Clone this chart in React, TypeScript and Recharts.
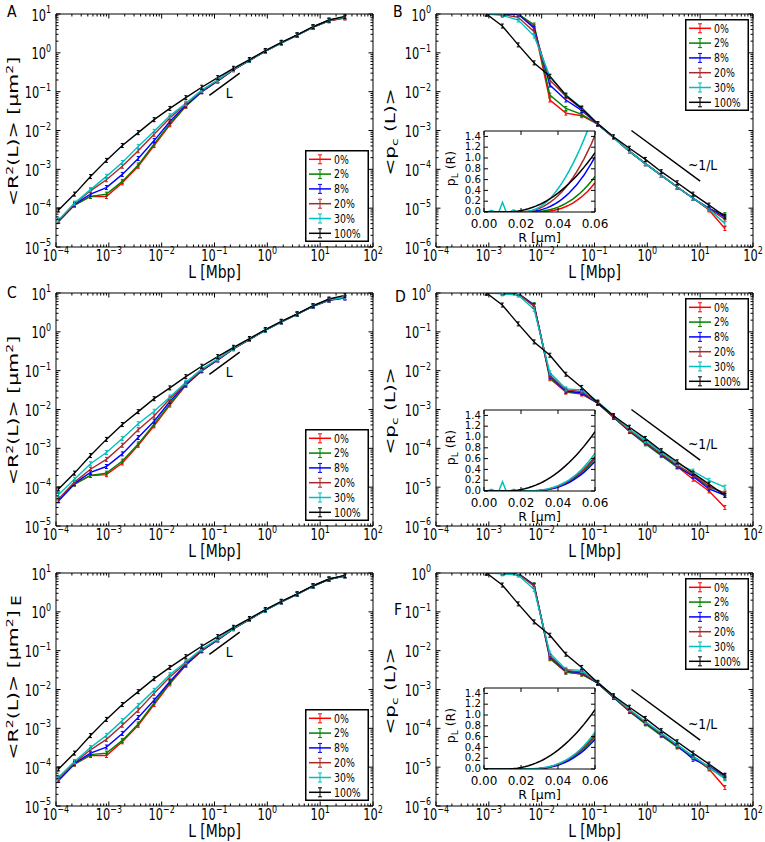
import React from 'react';
import { LineChart, Line, XAxis, YAxis, ReferenceLine, ReferenceDot } from 'recharts';

const FONT = '"DejaVu Sans", "Bitstream Vera Sans", Verdana, sans-serif';

const SERIES_NAMES = ['0%', '2%', '8%', '20%', '30%', '100%'];
const SERIES_COLORS = ['#ff0000', '#008000', '#0000ff', '#a52a2a', '#00bfbf', '#000000'];

// genomic distance L [Mbp]
const L_MBP = [1.12e-4, 2.24e-4, 4.5e-4, 9e-4, 1.8e-3, 3.6e-3, 7.2e-3, 0.0143, 0.0287, 0.0573, 0.115, 0.229, 0.459, 0.918, 1.84, 3.67, 7.34, 14.7, 29.4];

const X_DECADES = [-4, -3, -2, -1, 0, 1, 2];
const R2_DECADES = [-5, -4, -3, -2, -1, 0, 1];
const PC_DECADES = [-6, -5, -4, -3, -2, -1, 0];
const MINOR_MULTS = [2, 3, 4, 5, 6, 7, 8, 9];

// ---- Panel A : <R^2(L)>
const A_0 = [4.6e-5, 1.2e-4, 2.0e-4, 2.0e-4, 4.5e-4, 1.2e-3, 4.1e-3, 0.014, 0.042, 0.1, 0.19, 0.37, 0.64, 1.1, 1.8, 2.85, 4.6, 6.7, 8.0];
const A_2 = [4.6e-5, 1.2e-4, 2.0e-4, 2.3e-4, 4.9e-4, 1.3e-3, 4.5e-3, 0.015, 0.043, 0.1, 0.19, 0.37, 0.64, 1.1, 1.8, 2.85, 4.6, 6.8, 8.2];
const A_8 = [4.6e-5, 1.25e-4, 2.3e-4, 3.4e-4, 7.4e-4, 1.9e-3, 5.5e-3, 0.017, 0.045, 0.1, 0.19, 0.37, 0.64, 1.1, 1.8, 2.85, 4.6, 6.8, 8.3];
const A_20 = [4.8e-5, 1.3e-4, 2.8e-4, 5.4e-4, 1.2e-3, 3.0e-3, 8e-3, 0.021, 0.048, 0.105, 0.195, 0.37, 0.64, 1.1, 1.8, 2.85, 4.6, 6.7, 7.9];
const A_30 = [5e-5, 1.35e-4, 3.0e-4, 6.6e-4, 1.5e-3, 3.9e-3, 9.5e-3, 0.024, 0.05, 0.11, 0.2, 0.38, 0.65, 1.1, 1.8, 2.85, 4.6, 6.9, 8.4];
const A_100 = [9e-5, 2.3e-4, 6.5e-4, 1.7e-3, 4.1e-3, 8.8e-3, 0.019, 0.037, 0.07, 0.13, 0.23, 0.4, 0.67, 1.14, 1.87, 2.9, 4.7, 7.0, 8.7];

// ---- Panel C
const C_0 = [4.5e-5, 1.2e-4, 2.0e-4, 2.1e-4, 4.2e-4, 1.2e-3, 3.8e-3, 0.013, 0.042, 0.1, 0.19, 0.37, 0.64, 1.1, 1.8, 2.85, 4.6, 6.6, 7.6];
const C_2 = [4.5e-5, 1.2e-4, 2.0e-4, 2.3e-4, 4.7e-4, 1.3e-3, 4.2e-3, 0.014, 0.043, 0.1, 0.19, 0.37, 0.64, 1.1, 1.8, 2.85, 4.6, 6.6, 7.6];
const C_8 = [4.5e-5, 1.25e-4, 2.4e-4, 3.4e-4, 7.2e-4, 1.9e-3, 5.0e-3, 0.016, 0.045, 0.1, 0.19, 0.37, 0.64, 1.1, 1.8, 2.85, 4.5, 6.5, 7.4];
const C_20 = [5e-5, 1.35e-4, 2.9e-4, 5.2e-4, 1.2e-3, 3.0e-3, 6.8e-3, 0.019, 0.047, 0.105, 0.195, 0.37, 0.64, 1.1, 1.8, 2.85, 4.6, 6.6, 7.7];
const C_30 = [6.5e-5, 1.6e-4, 4.0e-4, 7.8e-4, 1.8e-3, 4.3e-3, 9e-3, 0.021, 0.05, 0.11, 0.2, 0.38, 0.65, 1.1, 1.8, 2.85, 4.6, 6.7, 7.8];
const C_100 = [9e-5, 2.3e-4, 6.5e-4, 1.7e-3, 4.1e-3, 8.8e-3, 0.019, 0.036, 0.07, 0.13, 0.23, 0.4, 0.67, 1.14, 1.87, 2.9, 4.7, 7.0, 8.7];

// ---- Panel E
const E_0 = [4.6e-5, 1.2e-4, 2.0e-4, 2.0e-4, 4.5e-4, 1.2e-3, 4.1e-3, 0.014, 0.042, 0.1, 0.19, 0.37, 0.64, 1.1, 1.8, 2.85, 4.6, 6.9, 8.4];
const E_2 = [4.6e-5, 1.2e-4, 2.1e-4, 2.3e-4, 4.9e-4, 1.3e-3, 4.5e-3, 0.015, 0.043, 0.1, 0.19, 0.37, 0.64, 1.1, 1.8, 2.85, 4.6, 6.9, 8.5];
const E_8 = [4.6e-5, 1.25e-4, 2.3e-4, 3.3e-4, 7.4e-4, 1.9e-3, 5.3e-3, 0.016, 0.045, 0.1, 0.19, 0.37, 0.64, 1.1, 1.8, 2.85, 4.6, 6.9, 8.4];
const E_20 = [5e-5, 1.3e-4, 2.8e-4, 5.2e-4, 1.2e-3, 2.9e-3, 8e-3, 0.021, 0.048, 0.105, 0.195, 0.37, 0.64, 1.1, 1.8, 2.85, 4.6, 6.9, 8.5];
const E_30 = [5.5e-5, 1.4e-4, 3.2e-4, 6.6e-4, 1.6e-3, 3.9e-3, 9.5e-3, 0.024, 0.052, 0.11, 0.2, 0.38, 0.65, 1.1, 1.8, 2.85, 4.6, 6.9, 8.5];
const E_100 = [9e-5, 2.3e-4, 6.5e-4, 1.7e-3, 4.1e-3, 8.8e-3, 0.019, 0.037, 0.07, 0.13, 0.23, 0.4, 0.67, 1.14, 1.87, 2.9, 4.7, 7.0, 8.7];

// ---- Panel B : <p_c(L)>
const B_0 = [null, null, null, 1.0, 1.0, 1.0, 0.47, 6.1e-3, 2.8e-3, 2.4e-3, 1.45e-3, 6.6e-4, 2.9e-4, 1.4e-4, 7e-5, 3.5e-5, 1.8e-5, 9e-6, 3e-6];
const B_2 = [null, null, null, 1.0, 1.0, 1.0, 0.52, 8.2e-3, 3.7e-3, 2.6e-3, 1.45e-3, 6.6e-4, 2.9e-4, 1.4e-4, 7e-5, 3.5e-5, 1.8e-5, 9.5e-6, 6.8e-6];
const B_8 = [null, null, null, 1.0, 1.0, 0.98, 0.43, 0.0148, 6.1e-3, 3.3e-3, 1.45e-3, 6.6e-4, 2.9e-4, 1.4e-4, 7e-5, 3.5e-5, 1.8e-5, 1e-5, 5.8e-6];
const B_20 = [null, null, null, 1.0, 0.97, 0.82, 0.35, 0.02, 7.5e-3, 3.6e-3, 1.45e-3, 6.6e-4, 2.9e-4, 1.4e-4, 7e-5, 3.5e-5, 1.8e-5, 9.5e-6, 5.2e-6];
const B_30 = [null, null, null, 1.0, 0.92, 0.7, 0.27, 0.0245, 8.2e-3, 3.9e-3, 1.5e-3, 6.6e-4, 2.9e-4, 1.4e-4, 7e-5, 3.5e-5, 1.8e-5, 9.5e-6, 4e-6];
const B_100 = [null, null, null, 1.0, 0.49, 0.16, 0.055, 0.025, 8.1e-3, 3.7e-3, 1.5e-3, 6.9e-4, 3.5e-4, 1.8e-4, 8.7e-5, 4.5e-5, 2.3e-5, 1.2e-5, 6.2e-6];

// ---- Panel D
const D_0 = [null, null, null, 1.0, 1.0, 0.97, 0.47, 6.2e-3, 2.8e-3, 2.5e-3, 1.45e-3, 6.3e-4, 2.8e-4, 1.4e-4, 6.8e-5, 3.4e-5, 1.6e-5, 8e-6, 3e-6];
const D_2 = [null, null, null, 1.0, 1.0, 0.97, 0.5, 6.6e-3, 2.9e-3, 2.6e-3, 1.45e-3, 6.3e-4, 2.7e-4, 1.3e-4, 6.5e-5, 3.3e-5, 2e-5, 1e-5, 7e-6];
const D_8 = [null, null, null, 1.0, 1.0, 0.97, 0.48, 7.2e-3, 3.0e-3, 2.7e-3, 1.45e-3, 6.4e-4, 2.8e-4, 1.4e-4, 7e-5, 3.5e-5, 1.9e-5, 9e-6, 6.2e-6];
const D_20 = [null, null, null, 1.0, 1.0, 0.95, 0.45, 7.6e-3, 3.2e-3, 2.9e-3, 1.5e-3, 6.5e-4, 2.9e-4, 1.45e-4, 7.2e-5, 3.7e-5, 2.1e-5, 1.05e-5, 7e-6];
const D_30 = [null, null, null, 1.0, 0.95, 0.88, 0.38, 8.8e-3, 3.4e-3, 3.2e-3, 1.6e-3, 7e-4, 3.1e-4, 1.6e-4, 8e-5, 4.1e-5, 2.6e-5, 1.5e-5, 1e-5];
const D_100 = [null, null, null, 1.0, 0.49, 0.16, 0.055, 0.025, 8.1e-3, 3.7e-3, 1.5e-3, 6.9e-4, 3.5e-4, 1.8e-4, 8.7e-5, 4.5e-5, 2.3e-5, 1.2e-5, 6.2e-6];

// ---- Panel F
const F_0 = [null, null, null, 1.0, 1.0, 0.97, 0.47, 6.2e-3, 2.8e-3, 2.5e-3, 1.45e-3, 6.3e-4, 2.8e-4, 1.35e-4, 6.8e-5, 3.4e-5, 1.8e-5, 9e-6, 3e-6];
const F_2 = [null, null, null, 1.0, 1.0, 0.97, 0.5, 6.5e-3, 2.8e-3, 2.5e-3, 1.45e-3, 6.2e-4, 2.7e-4, 1.3e-4, 6.5e-5, 3.3e-5, 1.8e-5, 9.5e-6, 5.2e-6];
const F_8 = [null, null, null, 1.0, 1.0, 0.97, 0.48, 7e-3, 3.0e-3, 2.7e-3, 1.45e-3, 6.4e-4, 2.8e-4, 1.4e-4, 7e-5, 3.6e-5, 1.6e-5, 1.05e-5, 6e-6];
const F_20 = [null, null, null, 1.0, 1.0, 0.95, 0.46, 7.4e-3, 3.1e-3, 2.8e-3, 1.5e-3, 6.5e-4, 2.9e-4, 1.45e-4, 7.2e-5, 3.7e-5, 1.9e-5, 1e-5, 5.5e-6];
const F_30 = [null, null, null, 1.0, 0.95, 0.88, 0.38, 8.6e-3, 3.3e-3, 3.1e-3, 1.55e-3, 6.8e-4, 3.1e-4, 1.5e-4, 7.5e-5, 3.8e-5, 1.9e-5, 1e-5, 5e-6];
const F_100 = [null, null, null, 1.0, 0.49, 0.16, 0.055, 0.025, 8.1e-3, 3.7e-3, 1.5e-3, 6.9e-4, 3.5e-4, 1.8e-4, 8.7e-5, 4.5e-5, 2.3e-5, 1.2e-5, 6.2e-6];

// ---- Insets: p_L(R), R in µm
const R_UM = [0, 0.002, 0.004, 0.006, 0.008, 0.01, 0.012, 0.014, 0.016, 0.018, 0.02, 0.022, 0.024, 0.026, 0.028, 0.03, 0.032, 0.034, 0.036, 0.038, 0.04, 0.042, 0.044, 0.046, 0.048, 0.05, 0.052, 0.054, 0.056, 0.058, 0.06];
const INSET_X_TICKS = [0, 0.02, 0.04, 0.06];
const INSET_Y_TICKS = [0, 0.2, 0.4, 0.6, 0.8, 1.0, 1.2, 1.4];

const IN_BLACK = [0, 0, 0, 0, 0, 0, 0, 0.003, 0.008, 0.016, 0.028, 0.042, 0.06, 0.082, 0.108, 0.138, 0.172, 0.21, 0.253, 0.3, 0.35, 0.405, 0.465, 0.528, 0.596, 0.668, 0.745, 0.826, 0.912, 1.002, 1.1];

const INB_0 = [0, 0, 0, 0, 0, 0, 0, 0, 0, 0, 0, 0, 0, 0, 0.001, 0.003, 0.007, 0.013, 0.022, 0.034, 0.05, 0.071, 0.097, 0.128, 0.165, 0.21, 0.26, 0.32, 0.38, 0.46, 0.54];
const INB_2 = [0, 0, 0, 0, 0, 0, 0, 0, 0, 0, 0, 0, 0, 0.002, 0.005, 0.01, 0.019, 0.031, 0.046, 0.066, 0.09, 0.12, 0.154, 0.195, 0.24, 0.293, 0.352, 0.418, 0.49, 0.57, 0.66];
const INB_8 = [0, 0, 0, 0, 0, 0, 0, 0, 0, 0, 0, 0.001, 0.004, 0.01, 0.019, 0.034, 0.053, 0.077, 0.107, 0.143, 0.185, 0.234, 0.29, 0.353, 0.424, 0.5, 0.59, 0.68, 0.79, 0.9, 1.02];
const INB_20 = [0, 0, 0, 0, 0, 0, 0, 0, 0, 0, 0.001, 0.005, 0.013, 0.027, 0.046, 0.07, 0.1, 0.14, 0.186, 0.24, 0.3, 0.37, 0.449, 0.537, 0.633, 0.74, 0.855, 0.98, 1.117, 1.26, 1.42];
const INB_30 = [0, 0, 0.03, 0, 0, 0.18, 0, 0, 0.04, 0, 0, 0.005, 0.015, 0.03, 0.055, 0.09, 0.135, 0.19, 0.26, 0.34, 0.43, 0.53, 0.64, 0.76, 0.89, 1.03, 1.18, 1.34, 1.51, 1.69, 1.88];

const IND_0 = [0, 0, 0, 0, 0, 0, 0, 0, 0, 0, 0, 0, 0, 0.002, 0.005, 0.01, 0.018, 0.029, 0.043, 0.062, 0.085, 0.112, 0.145, 0.183, 0.226, 0.275, 0.33, 0.392, 0.461, 0.537, 0.62];
const IND_2 = [0, 0, 0, 0, 0, 0, 0, 0, 0, 0, 0, 0, 0, 0.002, 0.004, 0.01, 0.017, 0.028, 0.042, 0.06, 0.082, 0.109, 0.14, 0.177, 0.218, 0.266, 0.32, 0.38, 0.446, 0.52, 0.6];
const IND_8 = [0, 0, 0, 0, 0, 0, 0, 0, 0, 0, 0, 0, 0, 0.001, 0.003, 0.007, 0.013, 0.022, 0.035, 0.05, 0.07, 0.095, 0.124, 0.158, 0.197, 0.241, 0.29, 0.345, 0.406, 0.475, 0.55];
const IND_20 = [0, 0, 0, 0, 0, 0, 0, 0, 0, 0, 0, 0, 0, 0.003, 0.005, 0.01, 0.019, 0.03, 0.045, 0.064, 0.088, 0.116, 0.15, 0.189, 0.233, 0.284, 0.341, 0.405, 0.476, 0.554, 0.64];
const IND_30 = [0, 0, 0.03, 0, 0, 0.17, 0, 0, 0.03, 0, 0, 0.002, 0.004, 0.006, 0.01, 0.016, 0.025, 0.037, 0.053, 0.074, 0.099, 0.13, 0.166, 0.208, 0.256, 0.31, 0.372, 0.443, 0.521, 0.606, 0.7];
const INF_30 = [0, 0, 0, 0, 0, 0, 0, 0, 0, 0, 0, 0.002, 0.004, 0.006, 0.01, 0.015, 0.024, 0.036, 0.051, 0.072, 0.096, 0.126, 0.161, 0.202, 0.249, 0.301, 0.361, 0.43, 0.506, 0.589, 0.68];

// annotations (data coordinates)
const SLOPE_L = [{ x: 0.08, y: 0.08 }, { x: 0.3, y: 0.3 }];
const SLOPE_INV = [{ x: 0.5, y: 1e-3 }, { x: 10, y: 5e-5 }];
const LABEL_L = { x: 0.19, y: 0.092, text: 'L' };
const LABEL_INV = { x: 11.1, y: 1.29e-4, text: '~1/L' };

const PANELS = [
  { letter: 'A', kind: 'r2', left: 56, top: 14, series: [A_0, A_2, A_8, A_20, A_30, A_100], lx: 7, ly: 17, rot: false, ylc: 117.5 },
  { letter: 'B', kind: 'pc', left: 436, top: 14, series: [B_0, B_2, B_8, B_20, B_30, B_100], lx: 393, ly: 17, rot: false, ylc: 118,
    inset: { top: 130.5, series: [INB_0, INB_2, INB_8, INB_20, INB_30, IN_BLACK] } },
  { letter: 'C', kind: 'r2', left: 56, top: 293, series: [C_0, C_2, C_8, C_20, C_30, C_100], lx: 7, ly: 298, rot: false, ylc: 117.5 },
  { letter: 'D', kind: 'pc', left: 436, top: 293, series: [D_0, D_2, D_8, D_20, D_30, D_100], lx: 395, ly: 302, rot: false, ylc: 118,
    inset: { top: 409.5, series: [IND_0, IND_2, IND_8, IND_20, IND_30, IN_BLACK] } },
  { letter: 'E', kind: 'r2', left: 56, top: 573, series: [E_0, E_2, E_8, E_20, E_30, E_100], lx: 20.5, ly: 600.5, rot: true, ylc: 112 },
  { letter: 'F', kind: 'pc', left: 436, top: 573, series: [F_0, F_2, F_8, F_20, F_30, F_100], lx: 394, ly: 615, rot: false, ylc: 118,
    inset: { top: 687.5, series: [IND_0, IND_2, IND_8, IND_20, INF_30, IN_BLACK] } },
];

const PW = 317;
const PH = 233;
const IW = 111;
const IH = 81;

function logTicks(decades: number[]) {
  const out: number[] = [];
  decades.forEach((d, i) => {
    out.push(Math.pow(10, d));
    if (i < decades.length - 1) MINOR_MULTS.forEach((m) => out.push(m * Math.pow(10, d)));
  });
  return out;
}

function SText({ x, y, size, sx = 1, anchor = 'start', rotate = false, children }: any) {
  return (
    <g transform={`translate(${x},${y}) scale(${sx},1)${rotate ? ' rotate(-90)' : ''}`}>
      <text x={0} y={0} fontSize={size} fontFamily={FONT} textAnchor={anchor} fill="#000">
        {children}
      </text>
    </g>
  );
}

function LogTick(props: any) {
  const { x, y, payload, side, showLabel } = props;
  const v = payload.value;
  const lg = Math.log10(v);
  const e = Math.round(lg);
  const major = Math.abs(lg - e) < 1e-6;
  const len = major ? 4.5 : 2.5;
  let c = [x, y, x, y];
  if (side === 'bottom') c = [x, y, x, y - len];
  if (side === 'top') c = [x, y, x, y + len];
  if (side === 'left') c = [x, y, x + len, y];
  if (side === 'right') c = [x, y, x - len, y];
  const exp = e < 0 ? '\u2212' + -e : String(e);
  return (
    <g>
      <line x1={c[0]} y1={c[1]} x2={c[2]} y2={c[3]} stroke="#000" strokeWidth={1} />
      {showLabel && major && side === 'bottom' && (
        <SText x={x} y={y + 13.5} size={15} sx={0.76} anchor="middle">
          10<tspan dy={-6.5} fontSize={10.5}>{exp}</tspan>
        </SText>
      )}
      {showLabel && major && side === 'left' && (
        <SText x={x - 5} y={y + 6.5} size={15} sx={0.76} anchor="end">
          10<tspan dy={-7.5} fontSize={10.5}>{exp}</tspan>
        </SText>
      )}
    </g>
  );
}

function LinTick(props: any) {
  const { x, y, payload, side, showLabel, digits } = props;
  const len = 4;
  let c = [x, y, x, y];
  if (side === 'bottom') c = [x, y, x, y - len];
  if (side === 'top') c = [x, y, x, y + len];
  if (side === 'left') c = [x, y, x + len, y];
  if (side === 'right') c = [x, y, x - len, y];
  const txt = Number(payload.value).toFixed(digits);
  return (
    <g>
      <line x1={c[0]} y1={c[1]} x2={c[2]} y2={c[3]} stroke="#000" strokeWidth={1} />
      {showLabel && side === 'bottom' && (
        <SText x={x} y={y + 15.5} size={12} anchor="middle">{txt}</SText>
      )}
      {showLabel && side === 'left' && (
        <SText x={x - 3} y={y + 3.2} size={10.2} anchor="end">{txt}</SText>
      )}
    </g>
  );
}

const makeDot = (color: string) => (p: any) => {
  const k = `d-${p.index}`;
  if (p.cx == null || p.cy == null || isNaN(p.cy) || p.value == null) return <g key={k} />;
  return (
    <g key={k}>
      <line x1={p.cx} x2={p.cx} y1={p.cy - 2} y2={p.cy + 2} stroke={color} strokeWidth={1} />
      <line x1={p.cx - 1.5} x2={p.cx + 1.5} y1={p.cy - 2} y2={p.cy - 2} stroke={color} strokeWidth={1} />
      <line x1={p.cx - 1.5} x2={p.cx + 1.5} y1={p.cy + 2} y2={p.cy + 2} stroke={color} strokeWidth={1} />
    </g>
  );
};

const AXIS_LINE = { stroke: '#000', strokeWidth: 1 };

function MainPanel({ cfg }: any) {
  const isR2 = cfg.kind === 'r2';
  const rows = L_MBP.map((L, i) => {
    const r: any = { L };
    cfg.series.forEach((s: any[], k: number) => { r['s' + k] = s[i]; });
    return r;
  });
  const yDomain = isR2 ? [1e-5, 10] : [1e-6, 1];
  const xTicks = logTicks(X_DECADES);
  const yTicks = logTicks(isR2 ? R2_DECADES : PC_DECADES);
  const common = { tickSize: 0, tickMargin: 0, tickLine: false, axisLine: AXIS_LINE, interval: 0 as any, allowDataOverflow: true };
  const lab = isR2 ? LABEL_L : LABEL_INV;
  return (
    <div style={{ position: 'absolute', left: cfg.left - 56, top: cfg.top - 14 }}>
      <LineChart width={396} height={285} data={rows} margin={{ top: 13, right: 22, bottom: 37, left: 55 }}>
        <XAxis dataKey="L" type="number" scale="log" domain={[1e-4, 100]} ticks={xTicks} height={1} {...common}
          tick={(p: any) => <LogTick {...p} side="bottom" showLabel />} />
        <XAxis xAxisId="top" orientation="top" dataKey="L" type="number" scale="log" domain={[1e-4, 100]} ticks={xTicks} height={1} {...common}
          tick={(p: any) => <LogTick {...p} side="top" />} />
        <YAxis type="number" scale="log" domain={yDomain} ticks={yTicks} width={1} {...common}
          tick={(p: any) => <LogTick {...p} side="left" showLabel />} />
        <YAxis yAxisId="right" orientation="right" type="number" scale="log" domain={yDomain} ticks={yTicks} width={1} {...common}
          tick={(p: any) => <LogTick {...p} side="right" />} />
        <ReferenceLine segment={isR2 ? SLOPE_L : SLOPE_INV} stroke="#000" strokeWidth={1.5} />
        <ReferenceDot x={lab.x} y={lab.y} r={0}
          shape={(p: any) => <SText x={p.cx} y={p.cy + 5} size={14.5} sx={0.85} anchor="middle">{lab.text}</SText>} />
        {cfg.series.map((_: any, k: number) => (
          <Line key={k} dataKey={'s' + k} type="linear" stroke={SERIES_COLORS[k]} strokeWidth={1.4}
            dot={makeDot(SERIES_COLORS[k])} activeDot={false} isAnimationActive={false} connectNulls={false} />
        ))}
      </LineChart>
    </div>
  );
}

function InsetPanel({ left, top, series }: any) {
  const rows = R_UM.map((R, i) => {
    const r: any = { R };
    series.forEach((s: number[], k: number) => { r['s' + k] = s[i]; });
    return r;
  });
  const common = { tickSize: 0, tickMargin: 0, tickLine: false, axisLine: AXIS_LINE, interval: 0 as any, allowDataOverflow: true };
  return (
    <div style={{ position: 'absolute', left: left - 45, top: top - 5, width: 180, height: 126 }}>
      <div style={{ position: 'absolute', left: 45, top: 5, width: IW, height: IH, background: '#fff' }} />
      <div style={{ position: 'absolute', left: 0, top: 0 }}>
        <LineChart width={180} height={126} data={rows} margin={{ top: 4, right: 23, bottom: 39, left: 44 }}>
          <XAxis dataKey="R" type="number" domain={[0, 0.06]} ticks={INSET_X_TICKS} height={1} {...common}
            tick={(p: any) => <LinTick {...p} side="bottom" showLabel digits={2} />} />
          <XAxis xAxisId="top" orientation="top" dataKey="R" type="number" domain={[0, 0.06]} ticks={INSET_X_TICKS} height={1} {...common}
            tick={(p: any) => <LinTick {...p} side="top" digits={2} />} />
          <YAxis type="number" domain={[0, 1.5]} ticks={INSET_Y_TICKS} width={1} {...common}
            tick={(p: any) => <LinTick {...p} side="left" showLabel digits={1} />} />
          <YAxis yAxisId="right" orientation="right" type="number" domain={[0, 1.5]} ticks={INSET_Y_TICKS} width={1} {...common}
            tick={(p: any) => <LinTick {...p} side="right" digits={1} />} />
          {series.map((_: any, k: number) => (
            <Line key={k} dataKey={'s' + k} type="linear" stroke={SERIES_COLORS[k]} strokeWidth={1.5}
              dot={false} activeDot={false} isAnimationActive={false} />
          ))}
        </LineChart>
      </div>
    </div>
  );
}

function LegendBox({ left, top }: any) {
  const w = 64;
  const h = 92;
  return (
    <svg width={w} height={h} style={{ position: 'absolute', left, top }}>
      <rect x={0.75} y={0.75} width={w - 1.5} height={h - 1.5} fill="#fff" stroke="#000" strokeWidth={1.5} />
      {SERIES_NAMES.map((n, i) => {
        const cy = 9.3 + i * 14.8;
        const c = SERIES_COLORS[i];
        return (
          <g key={n}>
            <line x1={4} x2={26} y1={cy} y2={cy} stroke={c} strokeWidth={1.5} />
            <line x1={15} x2={15} y1={cy - 4.5} y2={cy + 4.5} stroke={c} strokeWidth={1} />
            <line x1={13} x2={17} y1={cy - 4.5} y2={cy - 4.5} stroke={c} strokeWidth={1} />
            <line x1={13} x2={17} y1={cy + 4.5} y2={cy + 4.5} stroke={c} strokeWidth={1} />
            <SText x={29} y={cy + 4.3} size={12} sx={0.78}>{n}</SText>
          </g>
        );
      })}
    </svg>
  );
}

function Overlay() {
  return (
    <svg width={765} height={842} style={{ position: 'absolute', left: 0, top: 0, pointerEvents: 'none' }}>
      {PANELS.map((p) => {
        const isR2 = p.kind === 'r2';
        return (
          <g key={p.letter}>
            <SText x={p.lx} y={p.ly} size={16.5} sx={0.85} rotate={p.rot} anchor={p.rot ? 'middle' : 'start'}>{p.letter}</SText>
            <SText x={p.left + PW / 2} y={p.top + PH + 31} size={17} sx={0.82} anchor="middle">L [Mbp]</SText>
            {isR2 ? (
              <SText x={p.left - 38.5} y={p.top + p.ylc} size={20.5} sx={0.66} rotate anchor="middle">
                {'<R'}<tspan dy={-7} fontSize={14}>2</tspan><tspan dy={7}>{'(L)> [\u03bcm'}</tspan><tspan dy={-7} fontSize={14}>2</tspan><tspan dy={7}>]</tspan>
              </SText>
            ) : (
              <SText x={p.left - 41} y={p.top + p.ylc} size={20} sx={0.66} rotate anchor="middle">
                {'<p'}<tspan dy={4.5} fontSize={14}>c</tspan><tspan dy={-4.5}>{' (L)>'}</tspan>
              </SText>
            )}
            {p.inset && (
              <g>
                <SText x={p.left + 48 + IW / 2} y={p.inset.top + IH + 30.5} size={12.5} anchor="middle">{'R [\u03bcm]'}</SText>
                <SText x={p.left + 48 - 29.5} y={p.inset.top + 38} size={12.5} rotate anchor="middle">
                  p<tspan dy={3.5} fontSize={9}>L</tspan><tspan dy={-3.5}>{' (R)'}</tspan>
                </SText>
              </g>
            )}
          </g>
        );
      })}
    </svg>
  );
}

export default function App() {
  return (
    <div style={{ position: 'absolute', left: 0, top: 0, width: 765, height: 842, background: '#fff', overflow: 'hidden', fontFamily: FONT }}>
      {PANELS.map((p) => <MainPanel key={p.letter} cfg={p} />)}
      {PANELS.map((p) => (p.inset ? <InsetPanel key={'i' + p.letter} left={p.left + 48} top={p.inset.top} series={p.inset.series} /> : null))}
      {PANELS.map((p) => (
        <LegendBox key={'l' + p.letter} left={p.left + PW - 4 - 64} top={p.kind === 'r2' ? p.top + PH - 5 - 92 : p.top + 5} />
      ))}
      <Overlay />
    </div>
  );
}
